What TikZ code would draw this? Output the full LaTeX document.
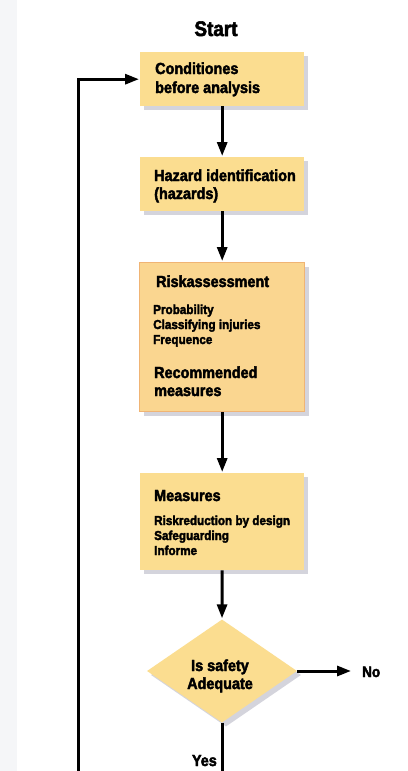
\documentclass[tikz,border=0pt]{standalone}
\usepackage{fontspec}
\newfontfamily\heavy[FakeStretch=0.9,FakeBold=2.6]{Liberation Sans}
\usetikzlibrary{arrows.meta,shapes.geometric,shadows}
\definecolor{boxfill}{HTML}{FBDD90}
\definecolor{riskfill}{HTML}{FAD690}
\definecolor{riskedge}{HTML}{F0B474}
\definecolor{shade}{HTML}{D4D4DC}
\definecolor{margin}{HTML}{F5F6F8}
\begin{document}
\begin{tikzpicture}[x=1pt,y=-1pt,
  shadowed/.style={drop shadow={shadow xshift=4pt,shadow yshift=-4pt,fill=shade,opacity=1}},
  stepbox/.style={rectangle,fill=boxfill,shadowed,minimum width=164pt,inner sep=0pt,anchor=north west},
  decision/.style={diamond,fill=boxfill,shadowed,inner sep=0pt,minimum width=150pt,minimum height=103pt},
  head/.style={inner sep=0pt,anchor=base west,font=\heavy\bfseries\fontsize{16}{19}\selectfont},
  sub/.style={inner sep=0pt,anchor=base west,font=\heavy\bfseries\fontsize{13}{15}\selectfont},
  flow/.style={line width=3pt,-{Triangle[length=14pt,width=10pt]},shorten >=1pt},
  plain/.style={line width=3pt}]
\useasboundingbox (0,0) rectangle (407,771);
\fill[white] (0,0) rectangle (407,771);
\fill[margin] (0,0) rectangle (17,771);

% title
\node[inner sep=0pt,anchor=base,font=\heavy\bfseries\fontsize{21}{24}\selectfont] (start) at (216,36) {Start};

% process boxes
\node[stepbox,minimum height=54pt] (b1) at (140,52) {};
\node[stepbox,minimum height=54pt] (b2) at (140,157) {};
\node[stepbox,fill=riskfill,draw=riskedge,line width=1.2pt,minimum width=165pt,minimum height=149pt] (b3) at (139,262) {};
\node[stepbox,minimum height=97pt] (b4) at (140,473) {};
\node[decision] (dec) at (222,671) {};

% box texts
\node[head] (t1a) at (155,74) {Conditiones};
\node[head] (t1b) at (155,93) {before analysis};
\node[head] (t2a) at (154,181) {Hazard identification};
\node[head] (t2b) at (154,199) {(hazards)};
\node[head] (t3a) at (156,287) {Riskassessment};
\node[sub]  (t3b) at (153,314) {Probability};
\node[sub]  (t3c) at (153,329) {Classifying injuries};
\node[sub]  (t3d) at (153,344) {Frequence};
\node[head] (t3e) at (154,378) {Recommended};
\node[head] (t3f) at (154,396) {measures};
\node[head] (t4a) at (154,501) {Measures};
\node[sub]  (t4b) at (154,525) {Riskreduction by design};
\node[sub]  (t4c) at (154,540) {Safeguarding};
\node[sub]  (t4d) at (154,555) {Informe};
\node[head,anchor=base] (t5a) at (220,671) {Is safety};
\node[head,anchor=base] (t5b) at (220,689) {Adequate};

% outcome labels
\node[head,font=\heavy\bfseries\fontsize{15}{18}\selectfont] (no) at (362,677) {No};
\node[head,anchor=base east] (yes) at (217,766) {Yes};

% connectors
\draw[flow] (b1.south) -- (b2.north);
\draw[flow] (b2.south) -- (b2.south |- b3.north);
\draw[flow] (b2.south |- b3.south) -- (b2.south |- b4.north);
\draw[flow] (b4.south) -- (dec.north);
\draw[flow,shorten >=11pt] (dec.east) -- (dec.east -| no.west);
\coordinate (yesfoot) at (222,771);
\draw[plain] (dec.south) -- (yesfoot);
\coordinate (loopfoot) at (78,771);
\draw[flow] (loopfoot) |- (b1.west);
\end{tikzpicture}
\end{document}
